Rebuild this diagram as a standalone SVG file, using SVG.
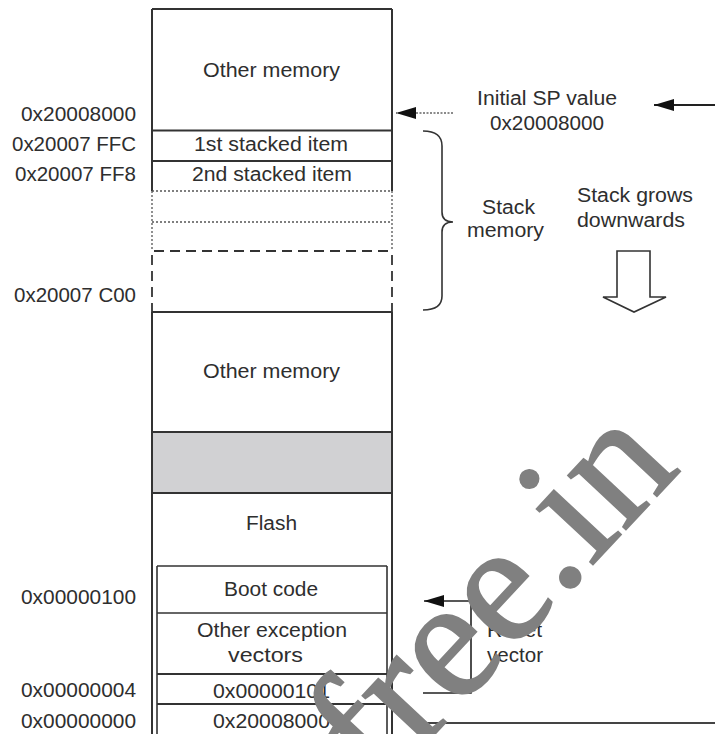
<svg xmlns="http://www.w3.org/2000/svg" width="715" height="734" viewBox="0 0 715 734">
<style>
  text { font-family: "Liberation Sans", Arial, sans-serif; font-size: 19.5px; fill: #2e2e2e; }
  .c { text-anchor: middle; }
  .r { text-anchor: end; }
  .ln { stroke: #333; stroke-width: 2; fill: none; }
  .thin { stroke: #333; stroke-width: 1.6; fill: none; }
  .dot { stroke: #555; stroke-width: 1.3; stroke-dasharray: 2 2; fill: none; }
  .dash { stroke: #333; stroke-width: 1.8; stroke-dasharray: 10 6; fill: none; }
  .wm { font-family: "Liberation Serif", "Times New Roman", serif; font-size: 172px; fill: #808080; stroke: #808080; stroke-width: 2; }
</style>
<defs>
  <marker id="ah" markerWidth="20" markerHeight="12" refX="20" refY="6" orient="auto" markerUnits="userSpaceOnUse">
    <path d="M0,0 L20,6 L0,12 Z" fill="#111"/>
  </marker>
</defs>
<rect width="715" height="734" fill="#fff"/>

<g id="column">
  <path class="ln" d="M152,9 H392 M152,9 V191 M392,9 V191 M152,312 V734 M392,312 V734"/>
  <path class="dot" d="M152,191 V251 M392,191 V251"/>
  <path class="dash" d="M152,255 V312 M392,255 V312"/>
</g>

<g id="other-memory-top">
  <text class="c" x="271.5" y="77" textLength="137" lengthAdjust="spacingAndGlyphs">Other memory</text>
</g>
<g id="stack-item-1">
  <path class="ln" d="M152,130.5 H392" stroke-width="2.6"/>
  <text class="c" x="271" y="151" textLength="154" lengthAdjust="spacingAndGlyphs">1st stacked item</text>
</g>
<g id="stack-item-2">
  <path class="ln" d="M152,161 H392"/>
  <text class="c" x="272" y="181" textLength="160" lengthAdjust="spacingAndGlyphs">2nd stacked item</text>
</g>
<g id="stack-free">
  <path class="dot" d="M152,191 H392 M152,222 H392"/>
  <path class="dash" d="M154,251 H392"/>
</g>
<g id="other-memory-mid">
  <path class="ln" d="M152,312 H392"/>
  <text class="c" x="271.5" y="378" textLength="137" lengthAdjust="spacingAndGlyphs">Other memory</text>
</g>
<g id="gap">
  <rect x="152" y="432" width="240" height="61" fill="#d1d1d3" stroke="#333" stroke-width="2"/>
</g>
<g id="flash">
  <text class="c" x="271.5" y="530" textLength="51" lengthAdjust="spacingAndGlyphs">Flash</text>
</g>
<g id="boot-code">
  <path class="thin" d="M157,566 H387 M157,566 V734 M387,566 V734"/>
  <text class="c" x="271" y="596" textLength="94" lengthAdjust="spacingAndGlyphs">Boot code</text>
</g>
<g id="other-vectors">
  <path class="thin" d="M157,613 H387"/>
  <text class="c" x="272" y="637" textLength="150" lengthAdjust="spacingAndGlyphs">Other exception</text>
  <text class="c" x="265.5" y="662" textLength="75" lengthAdjust="spacingAndGlyphs">vectors</text>
</g>
<g id="reset-vector-entry">
  <path class="ln" d="M157,674 H387"/>
  <text class="c" x="271.5" y="698" textLength="117" lengthAdjust="spacingAndGlyphs">0x00000101</text>
</g>
<g id="initial-sp-entry">
  <path class="ln" d="M157,704 H387"/>
  <text class="c" x="271.5" y="728" textLength="117" lengthAdjust="spacingAndGlyphs">0x20008000</text>
</g>

<g id="addresses">
  <text class="r" x="136" y="121" textLength="115" lengthAdjust="spacingAndGlyphs">0x20008000</text>
  <text class="r" x="136" y="151" textLength="124" lengthAdjust="spacingAndGlyphs">0x20007 FFC</text>
  <text class="r" x="136" y="181" textLength="121" lengthAdjust="spacingAndGlyphs">0x20007 FF8</text>
  <text class="r" x="136" y="302" textLength="122" lengthAdjust="spacingAndGlyphs">0x20007 C00</text>
  <text class="r" x="136" y="604" textLength="115" lengthAdjust="spacingAndGlyphs">0x00000100</text>
  <text class="r" x="136" y="697" textLength="115" lengthAdjust="spacingAndGlyphs">0x00000004</text>
  <text class="r" x="136" y="728" textLength="115" lengthAdjust="spacingAndGlyphs">0x00000000</text>
</g>

<g id="initial-sp-label">
  <text class="c" x="547" y="105" textLength="140" lengthAdjust="spacingAndGlyphs">Initial SP value</text>
  <text class="c" x="547" y="130" textLength="114" lengthAdjust="spacingAndGlyphs">0x20008000</text>
</g>
<g id="stack-memory-label">
  <text class="c" x="508.5" y="214" textLength="53" lengthAdjust="spacingAndGlyphs">Stack</text>
  <text class="c" x="505.5" y="237" textLength="77" lengthAdjust="spacingAndGlyphs">memory</text>
</g>
<g id="stack-grows-label">
  <text class="c" x="635" y="202" textLength="116" lengthAdjust="spacingAndGlyphs">Stack grows</text>
  <text class="c" x="631" y="227" textLength="108" lengthAdjust="spacingAndGlyphs">downwards</text>
  <path d="M617,251 H650 V297 H666 L634,312 L603,297 H617 Z" fill="#fff" stroke="#333" stroke-width="1.6"/>
</g>
<g id="reset-vector-label">
  <text x="487" y="637" textLength="55" lengthAdjust="spacingAndGlyphs">Reset</text>
  <text x="487" y="662" textLength="56" lengthAdjust="spacingAndGlyphs">vector</text>
</g>

<g id="connectors">
  <path d="M453,113 H396" stroke="#666" stroke-width="1.5" stroke-dasharray="2 1.5" fill="none" marker-end="url(#ah)"/>
  <path d="M715,105 H654" stroke="#222" stroke-width="1.8" fill="none" marker-end="url(#ah)"/>
  <path d="M423,131 Q442,131 442,146 V212 Q442,222 453,222 Q442,222 442,232 V296 Q442,310 423,310" stroke="#333" stroke-width="1.6" fill="none"/>
  <path d="M423,693 H471 V601 H424" stroke="#222" stroke-width="1.6" fill="none" marker-end="url(#ah)"/>
  <path d="M423,723 H715" stroke="#444" stroke-width="2" fill="none"/>
</g>

<text class="wm" transform="translate(379,794) rotate(-47)">free.in</text>
</svg>
